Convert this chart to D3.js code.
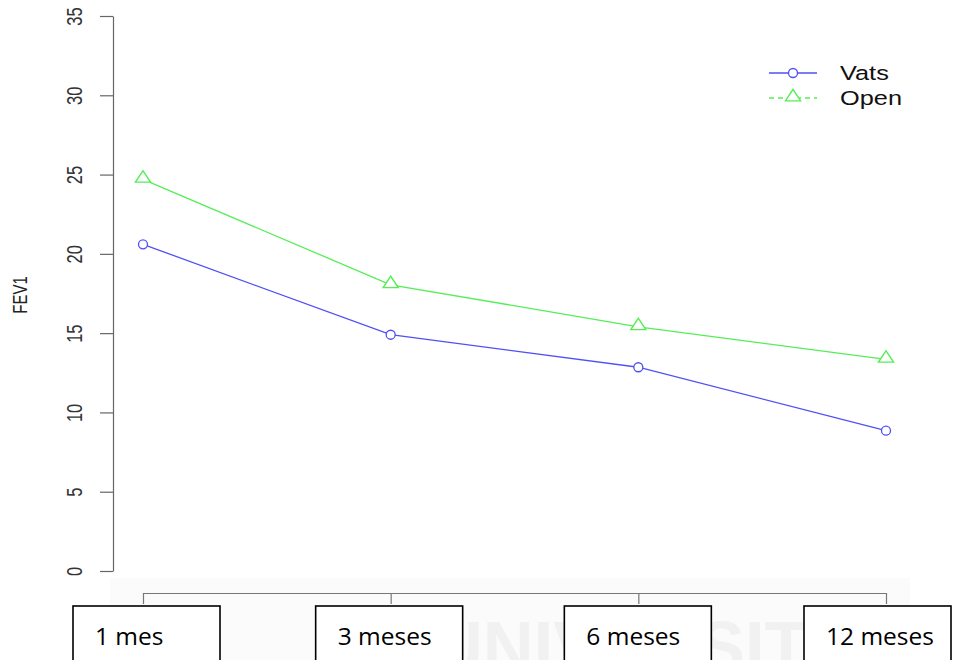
<!DOCTYPE html>
<html>
<head>
<meta charset="utf-8">
<script src="https://cdn.jsdelivr.net/npm/d3@7"></script>
<style>
  body { margin: 0; background: #fff; }
  svg { display: block; }
</style>
</head>
<body>
<div class="chart"></div>
<script>
// Data
const periods = ['1 mes', '3 meses', '6 meses', '12 meses'];
const vats = [20.6, 14.9, 12.85, 8.85];
const open = [24.7, 18.05, 15.4, 13.35];
const yTicks = [0, 5, 10, 15, 20, 25, 30, 35];
const seriesNames = ['Vats', 'Open'];

const W = 959, H = 660;
const stretch = 1.3; // the plot's text looks widened horizontally

const svg = d3.select('.chart')
    .append('svg')
        .attr('width', W)
        .attr('height', H);

// Scales
const x = d3.scalePoint().domain(periods).range([143, 886]);
const y = d3.scaleLinear().domain([0, 35]).range([571, 16]);

// Faint watermark behind the lower part
const wm = svg.append('g').attr('class', 'watermark');
wm.append('rect')
    .attr('x', 110).attr('y', 578)
    .attr('width', 800).attr('height', 82)
    .attr('fill', '#fbfbfb');
wm.append('text')
    .attr('x', 432).attr('y', 672)
    .attr('font-family', 'Liberation Sans, Arial, sans-serif')
    .attr('font-weight', 'bold')
    .attr('font-size', 72)
    .attr('textLength', 468)
    .attr('lengthAdjust', 'spacingAndGlyphs')
    .attr('fill', '#f1f1f1')
    .text('UNIVERSITAS');

// Y axis
const yAxis = svg.append('g')
    .attr('transform', 'translate(113,0)')
    .call(d3.axisLeft(y).tickValues(yTicks).tickSize(13).tickSizeOuter(0));
yAxis.select('.domain').attr('stroke', '#666').attr('stroke-width', 1.2);
yAxis.selectAll('.tick line').attr('stroke', '#666').attr('stroke-width', 1.2);
yAxis.selectAll('.tick text')
    .attr('font-family', 'Liberation Sans, Arial, sans-serif')
    .attr('font-size', 16.5)
    .attr('fill', '#333')
    .attr('text-anchor', 'middle')
    .attr('x', 0)
    .attr('y', 0)
    .attr('dy', '0.36em')
    .attr('transform', `translate(-39,0) scale(${stretch},1) rotate(-90)`);

svg.append('text')
    .attr('transform', `translate(27,295) scale(${stretch},1) rotate(-90)`)
    .attr('text-anchor', 'middle')
    .attr('font-family', 'Liberation Sans, Arial, sans-serif')
    .attr('font-size', 15)
    .attr('fill', '#222')
    .text('FEV1');

// Bottom axis (bracket style)
const xAxis = svg.append('g')
    .attr('transform', 'translate(0,593)')
    .call(d3.axisBottom(x).tickSize(11).tickSizeOuter(0).tickFormat(''));
xAxis.select('.domain').attr('stroke', '#777').attr('stroke-width', 1.2);
xAxis.selectAll('.tick line').attr('stroke', '#777').attr('stroke-width', 1.2);

// Boxed period labels
const boxW = 147;
const boxOffset = [-70, -75, -74, -82];
const boxes = svg.append('g').attr('class', 'boxes')
    .selectAll('g')
    .data(periods)
    .join('g')
        .attr('transform', (d, i) => `translate(${x(d) + boxOffset[i]},606)`);
boxes.append('rect')
    .attr('width', boxW)
    .attr('height', 70)
    .attr('fill', '#fff')
    .attr('stroke', '#000')
    .attr('stroke-width', 1.6);
boxes.append('text')
    .attr('x', 22)
    .attr('y', 39)
    .attr('font-family', 'Open Sans, Carlito, sans-serif')
    .attr('font-size', 24.5)
    .attr('fill', '#000')
    .text(d => d);

// Lines
const colors = { Vats: '#5050f5', Open: '#55ee55' };
const line = d3.line().x((d, i) => x(periods[i])).y(d => y(d));

svg.append('path')
    .datum(vats)
    .attr('d', line)
    .attr('fill', 'none')
    .attr('stroke', colors.Vats)
    .attr('stroke-width', 1.3);
svg.append('path')
    .datum(open)
    .attr('d', line)
    .attr('fill', 'none')
    .attr('stroke', colors.Open)
    .attr('stroke-width', 1.3);

// Markers
const tri = d3.symbol().type(d3.symbolTriangle).size(75);
svg.append('g').selectAll('circle')
    .data(vats)
    .join('circle')
        .attr('cx', (d, i) => x(periods[i]))
        .attr('cy', d => y(d))
        .attr('r', 4.5)
        .attr('fill', '#fff')
        .attr('stroke', colors.Vats)
        .attr('stroke-width', 1.3);
svg.append('g').selectAll('path')
    .data(open)
    .join('path')
        .attr('d', tri)
        .attr('transform', (d, i) => `translate(${x(periods[i])},${y(d) - 1}) scale(1.15,1)`)
        .attr('fill', '#fff')
        .attr('stroke', colors.Open)
        .attr('stroke-width', 1.3);

// Legend
const legend = svg.append('g').attr('transform', 'translate(769,73)');
legend.append('line')
    .attr('x1', 0).attr('x2', 48).attr('y1', 0).attr('y2', 0)
    .attr('stroke', colors.Vats).attr('stroke-width', 1.3);
legend.append('circle')
    .attr('cx', 24).attr('cy', 0).attr('r', 4.5)
    .attr('fill', '#fff').attr('stroke', colors.Vats).attr('stroke-width', 1.3);
legend.append('line')
    .attr('x1', 0).attr('x2', 48).attr('y1', 25).attr('y2', 25)
    .attr('stroke', colors.Open).attr('stroke-width', 1.3)
    .attr('stroke-dasharray', '5,4');
legend.append('path')
    .attr('d', tri)
    .attr('transform', 'translate(24,24) scale(1.15,1)')
    .attr('fill', '#fff').attr('stroke', colors.Open).attr('stroke-width', 1.3);
legend.selectAll('text.lbl')
    .data(seriesNames)
    .join('text')
        .attr('class', 'lbl')
        .attr('transform', (d, i) => `translate(71,${i * 25 + 7}) scale(${stretch},1)`)
        .attr('font-family', 'Liberation Sans, Arial, sans-serif')
        .attr('font-size', 19.5)
        .attr('fill', '#111')
        .text(d => d);
</script>
</body>
</html>
